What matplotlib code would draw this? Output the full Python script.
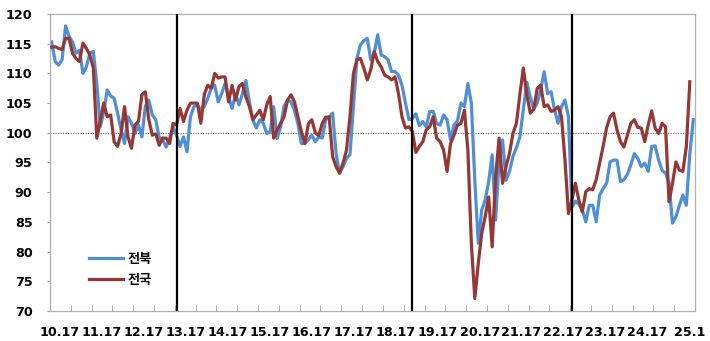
import matplotlib
matplotlib.use("Agg")
import matplotlib.pyplot as plt
import numpy as np

# monthly index, 2010.1 onward
jeonbuk = [
    115.3, 112.0, 111.4, 112.3, 118.0, 116.2, 115.3, 113.4, 113.9, 110.0, 111.1, 113.4,  # 2010
    113.7, 108.3, 101.0, 103.5, 107.2, 106.2, 105.8, 103.3, 100.5, 98.2, 102.7, 101.6,   # 2011
    99.9, 101.3, 99.3, 104.5, 105.5, 103.0, 102.2, 99.1, 98.8, 97.6, 99.1, 101.0,        # 2012
    99.6, 97.7, 99.3, 96.8, 102.7, 104.4, 104.7, 103.8, 104.4, 105.8, 107.5, 108.0,      # 2013
    105.2, 106.6, 108.3, 106.1, 104.1, 106.5, 104.7, 106.6, 108.8, 105.2, 102.2, 100.8,  # 2014
    102.2, 101.6, 99.9, 100.2, 104.4, 99.0, 101.0, 104.5, 105.5, 105.2, 103.8, 101.5,    # 2015
    98.2, 98.2, 98.8, 99.6, 98.5, 99.3, 99.1, 102.2, 102.6, 103.3, 96.5, 93.2,           # 2016
    94.3, 95.7, 96.3, 104.4, 112.5, 114.8, 115.5, 115.9, 112.3, 113.4, 116.5, 113.1,     # 2017
    112.8, 112.3, 110.3, 110.3, 109.7, 108.0, 105.0, 102.2, 102.4, 103.2, 101.2, 101.9,  # 2018
    101.0, 103.6, 103.6, 101.6, 101.3, 103.0, 102.2, 98.8, 101.3, 102.0, 105.0, 104.4,   # 2019
    108.3, 105.0, 92.0, 81.4, 87.0, 88.7, 91.8, 96.3, 85.3, 95.4, 98.8, 92.0,            # 2020
    93.5, 96.0, 97.5, 99.3, 104.0, 108.5, 106.0, 104.0, 105.0, 107.2, 110.3, 106.6,      # 2021
    106.9, 103.8, 101.6, 104.4, 105.5, 102.7, 87.5, 88.5, 88.0, 87.0, 85.0, 87.8,        # 2022
    87.8, 85.0, 89.5, 90.6, 91.5, 95.1, 95.4, 95.4, 91.8, 92.1, 93.0, 94.6,              # 2023
    96.5, 95.7, 94.3, 94.9, 93.5, 97.7, 97.8, 95.4, 93.7, 93.2, 91.5, 84.8,              # 2024
    85.9, 87.8, 89.5, 87.8, 96.5, 102.2,                                                 # 2025
]

jeonguk = [
    114.4, 114.5, 114.2, 114.0, 115.9, 115.9, 113.4, 112.5, 112.0, 115.1, 114.2, 113.1,  # 2010
    110.9, 99.1, 102.0, 105.0, 102.7, 103.0, 98.5, 97.7, 99.9, 104.4, 99.3, 97.4,        # 2011
    101.3, 101.9, 106.4, 106.9, 102.2, 99.6, 99.8, 97.9, 99.1, 99.1, 98.2, 101.6,        # 2012
    101.3, 104.1, 101.9, 103.8, 105.0, 105.0, 105.0, 101.6, 106.5, 108.0, 107.5, 110.0,  # 2013
    109.2, 109.4, 109.4, 105.2, 108.0, 105.5, 107.8, 108.3, 106.0, 104.4, 102.2, 103.0,  # 2014
    103.8, 102.2, 104.7, 106.1, 99.1, 100.5, 101.6, 102.7, 105.5, 106.4, 105.2, 102.7,   # 2015
    100.2, 98.2, 101.5, 102.2, 100.0, 99.5, 101.6, 102.6, 102.7, 96.0, 94.3, 93.2,       # 2016
    94.9, 97.1, 102.7, 110.0, 112.3, 112.5, 110.9, 108.9, 110.6, 113.7, 112.0, 111.1,    # 2017
    109.7, 109.4, 108.9, 109.4, 106.6, 102.7, 100.8, 101.0, 100.2, 96.7, 97.7, 98.5,     # 2018
    100.5, 101.0, 102.7, 99.1, 98.5, 97.1, 93.5, 98.2, 99.6, 101.3, 101.6, 103.8,        # 2019
    97.1, 81.4, 72.1, 78.0, 83.1, 85.9, 89.2, 80.8, 92.6, 99.1, 91.5, 94.3,              # 2020
    96.5, 99.9, 101.6, 106.5, 110.9, 106.4, 103.3, 104.0, 107.5, 108.0, 104.4, 104.7,    # 2021
    103.6, 103.8, 104.4, 102.7, 95.4, 86.4, 88.7, 91.5, 88.7, 86.7, 90.1, 90.6,          # 2022
    90.4, 92.1, 94.9, 97.7, 100.8, 102.7, 103.3, 100.5, 98.5, 97.6, 99.6, 101.6,         # 2023
    102.2, 100.9, 100.8, 98.5, 101.3, 103.7, 100.8, 99.9, 101.6, 101.0, 88.4, 91.5,      # 2024
    95.1, 93.7, 93.5, 97.7, 108.6,                                                       # 2025
]

n_months = 186
year_labels = ['10.17', '11.17', '12.17', '13.17', '14.17', '15.17', '16.17', '17.17',
               '18.17', '19.17', '20.17', '21.17', '22.17', '23.17', '24.17', '25.1']
marker_months = [36, 104, 150]   # 2013.1, 2018.9, 2022.7

plt.rcParams['font.family'] = ['DejaVu Sans', 'Noto Sans CJK KR']
plt.rcParams['font.weight'] = 'bold'

fig = plt.figure(figsize=(7.1, 3.41), dpi=100)
ax = fig.add_axes([0.0704, 0.088, 0.9085, 0.871])

ax.axhline(100, color='#7f7f7f', linestyle=(0, (1, 1)), linewidth=0.9, zorder=1)
for m in marker_months:
    ax.axvline(m, color='black', linewidth=1.6, zorder=4)

ax.plot(np.arange(len(jeonbuk)), jeonbuk, color='#4F8FD8', linewidth=2.3,
        label='전북', zorder=2, solid_joinstyle='round')
ax.plot(np.arange(len(jeonguk)), jeonguk, color='#953735', linewidth=2.3,
        label='전국', zorder=3, solid_joinstyle='round')

ax.set_xlim(-0.5, n_months - 0.5)
ax.set_ylim(70, 120)
ax.set_yticks(range(70, 121, 5))

ax.set_xticks([12.1 * k + 2.4 for k in range(len(year_labels))])
ax.set_xticklabels(year_labels)
ax.set_xticks(np.arange(-0.5, n_months, 6), minor=True)
ax.tick_params(axis='x', which='major', length=0, pad=11, labelsize=9.2)
ax.tick_params(axis='x', which='minor', direction='in', length=4, color='#a0a0a0')
ax.tick_params(axis='y', direction='out', length=2, pad=10.5, labelsize=9.2, color='#a0a0a0')

for s in ax.spines.values():
    s.set_color('#b0b0b0')
    s.set_linewidth(0.9)

leg = ax.legend(loc='lower left', bbox_to_anchor=(0.05, 0.06), frameon=False,
                handlelength=2.6, handletextpad=0.3, labelspacing=0.6,
                borderpad=0, prop={'size': 9.5, 'weight': 'bold'})

fig.savefig('out.png', dpi=100)
